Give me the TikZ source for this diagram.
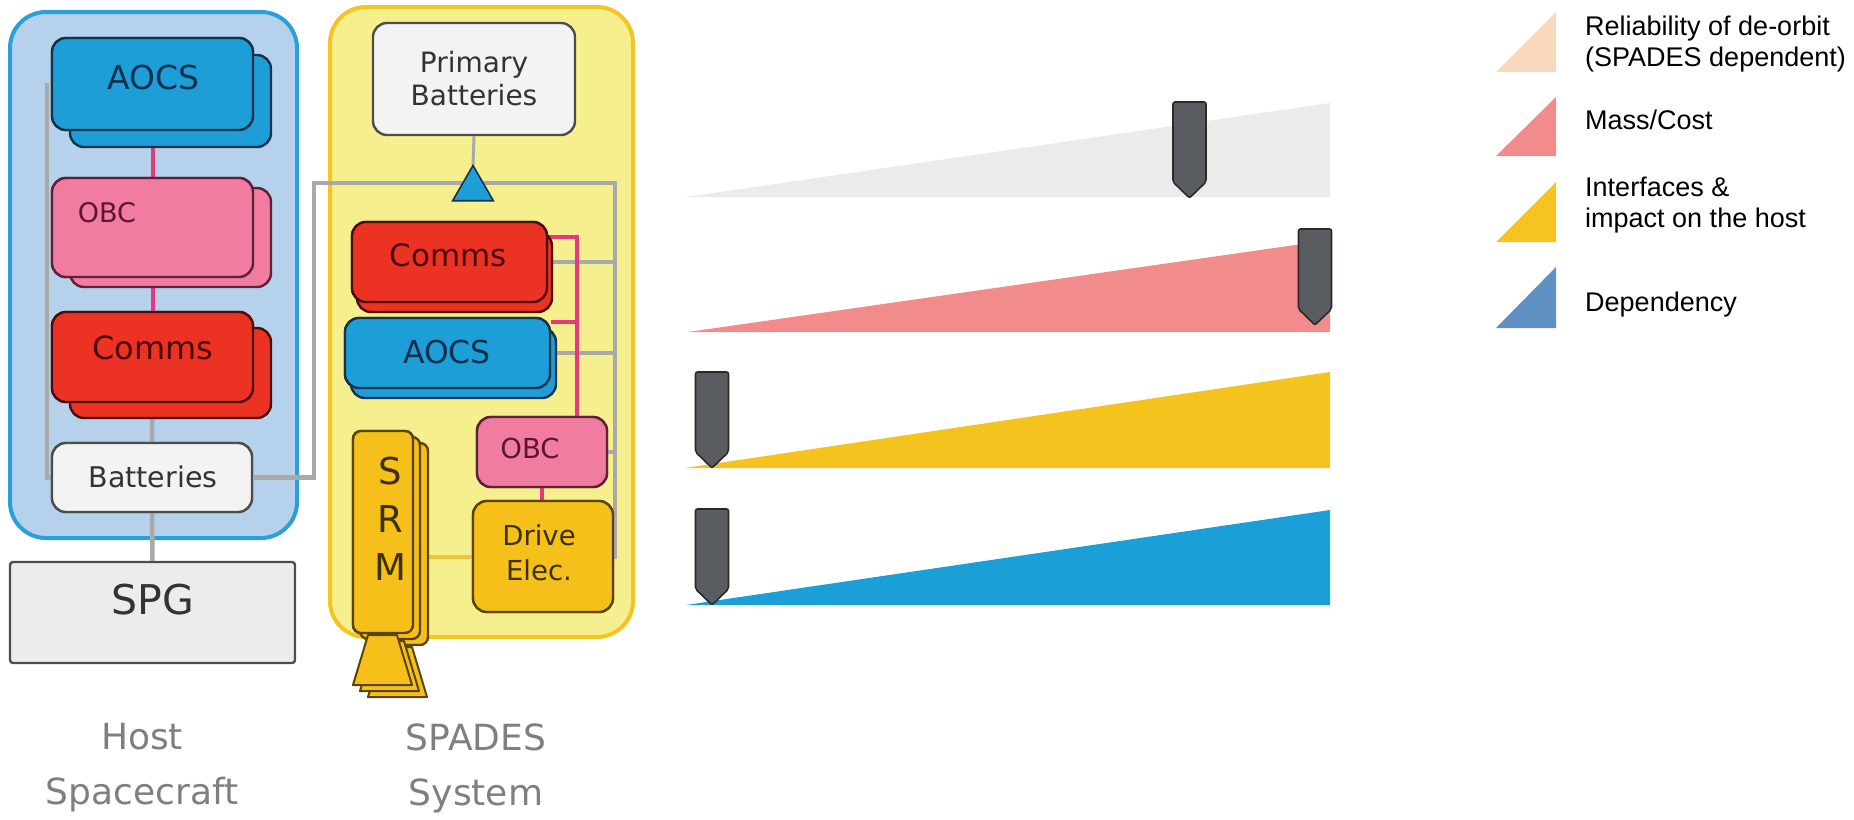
\documentclass[tikz,border=0pt]{standalone}
\usepackage{fontspec}
\setmainfont{DejaVu Sans}
\newfontfamily\legendfont{Liberation Sans}
\usetikzlibrary{shapes.geometric,calc}

% fills, borders and text colours
\definecolor{hostFill}{HTML}{B5D1EC}
\definecolor{hostEdge}{HTML}{2AA0DB}
\definecolor{spadesFill}{HTML}{F6EF8E}
\definecolor{spadesEdge}{HTML}{F2C521}
\definecolor{aocsFill}{HTML}{1E9ED6}
\definecolor{aocsEdge}{HTML}{16324A}
\definecolor{aocsText}{HTML}{12304E}
\definecolor{obcFill}{HTML}{F07CA0}
\definecolor{obcEdge}{HTML}{5E1F38}
\definecolor{obcText}{HTML}{5E1434}
\definecolor{commsFill}{HTML}{EC3323}
\definecolor{commsEdge}{HTML}{4A0D0D}
\definecolor{commsText}{HTML}{4A0808}
\definecolor{batFill}{HTML}{F3F3F3}
\definecolor{batEdge}{HTML}{4D4D4D}
\definecolor{batText}{HTML}{333333}
\definecolor{spgFill}{HTML}{ECECEC}
\definecolor{driveFill}{HTML}{F6C01A}
\definecolor{driveEdge}{HTML}{5B4300}
\definecolor{driveText}{HTML}{3D3000}
\definecolor{wireGray}{HTML}{A9A9A9}
\definecolor{wirePink}{HTML}{E6387C}
\definecolor{wireYellow}{HTML}{EEC23B}
\definecolor{captionGray}{HTML}{7F7F7F}
\definecolor{rampGray}{HTML}{EBEBEB}
\definecolor{rampPink}{HTML}{F28B8B}
\definecolor{rampYellow}{HTML}{F4C31D}
\definecolor{rampBlue}{HTML}{1A9FD7}
\definecolor{keyPeach}{HTML}{F9D9BD}
\definecolor{keyPink}{HTML}{F28C8C}
\definecolor{keyYellow}{HTML}{F5C41F}
\definecolor{keyBlue}{HTML}{5E90C3}
\definecolor{gaugeFill}{HTML}{595C60}
\definecolor{gaugeEdge}{HTML}{2A2A2A}

\newcommand{\fsz}[1]{\fontsize{#1pt}{#1pt}\selectfont}

\tikzset{
  unitframe/.style={line width=4pt, inner sep=0pt, rounded corners=36pt},
  unitbox/.style={line width=2.4pt, inner sep=0pt, rounded corners=14pt},
  aocsbox/.style={unitbox, fill=aocsFill, draw=aocsEdge},
  obcbox/.style={unitbox, fill=obcFill, draw=obcEdge},
  commsbox/.style={unitbox, fill=commsFill, draw=commsEdge},
  batbox/.style={unitbox, fill=batFill, draw=batEdge},
  drivebox/.style={unitbox, fill=driveFill, draw=driveEdge},
  srmbox/.style={drivebox, rounded corners=8pt},
  nozzle/.style={fill=driveFill, draw=driveEdge, line width=2pt, line join=round},
  txt/.style={inner sep=0pt, align=center},
  gline/.style={draw=wireGray, line width=4.5pt},
  pline/.style={draw=wirePink, line width=4pt},
  yline/.style={draw=wireYellow, line width=4pt},
  gauge/.pic={
    \draw[fill=gaugeFill, draw=gaugeEdge, line width=1.6pt, rounded corners=2pt]
      (0,0) -- (-16.5,-16) -- (-16.5,-96) -- (16.5,-96) -- (16.5,-16) -- cycle;
  },
}

\begin{document}
\begin{tikzpicture}[x=1pt, y=-1pt]
\useasboundingbox (0,0) rectangle (1854,819);

% ---------------- containers ----------------
\node[unitframe, fill=hostFill, draw=hostEdge, minimum width=287, minimum height=526]
  (host) at (153.5,275) {};
\node[unitframe, fill=spadesFill, draw=spadesEdge, minimum width=303, minimum height=630]
  (spades) at (481.5,322) {};

% ---------------- host spacecraft units ----------------
\node[aocsbox, minimum width=201, minimum height=92] (hAOCS) at (152.5,84) {};
\node[obcbox, minimum width=201, minimum height=99] (hOBC) at (152.5,227.5) {};
\node[commsbox, minimum width=201, minimum height=90] (hComms) at (152.5,357) {};
\node[batbox, minimum width=200, minimum height=69] (hBat) at (152,477.5) {};
\node[fill=spgFill, draw=batEdge, line width=2.4pt, rounded corners=3pt, inner sep=0pt,
      minimum width=285, minimum height=101] (spg) at (152.5,612.5) {};

% host wiring
\draw[gline] ($(hAOCS.west)+(-4,-1)$) |- (hBat.west);
\draw[pline] (hAOCS.south) -- (hOBC.north);
\draw[pline] (hOBC.south) -- (hComms.north);
\draw[gline] (hComms.south) -- (hBat.north);
\draw[gline] (hBat.south) -- (spg.north);

% redundant copies behind, then the front units on top
\node[aocsbox, minimum width=201, minimum height=92] (hAOCSb) at (170.5,101) {};
\node[aocsbox, minimum width=201, minimum height=92] (hAOCSf) at (152.5,84) {};
\node[obcbox, minimum width=201, minimum height=99] (hOBCb) at (170.5,237.5) {};
\node[obcbox, minimum width=201, minimum height=99] (hOBCf) at (152.5,227.5) {};
\node[commsbox, minimum width=201, minimum height=90] (hCommsb) at (170.5,373) {};
\node[commsbox, minimum width=201, minimum height=90] (hCommsf) at (152.5,357) {};
\node[batbox, minimum width=200, minimum height=69] (hBatf) at (152,477.5) {};

\node[txt, font=\fsz{33}, text=aocsText] (hAOCSt) at (153,77) {AOCS};
\node[txt, font=\fsz{27}, text=obcText] (hOBCt) at (107,213) {OBC};
\node[txt, font=\fsz{32}, text=commsText] (hCommst) at (153,348) {Comms};
\node[txt, font=\fsz{28.5}, text=batText] (hBatt) at (153,477) {Batteries};
\node[txt, font=\fsz{41}, text=batText] (spgt) at (153,600) {SPG};

% ---------------- SPADES units ----------------
\node[batbox, minimum width=202, minimum height=112, font=\fsz{28},
      text=batText, align=center, execute at begin node=\setlength{\baselineskip}{33pt}]
  (sPB) at (474,79) {Primary\\Batteries};
\node[commsbox, minimum width=195, minimum height=80] (sComms) at (449.5,262) {};
\node[aocsbox, minimum width=205, minimum height=70] (sAOCS) at (447.5,353) {};
\node[obcbox, minimum width=130, minimum height=70] (sOBC) at (542,452) {};
\node[drivebox, minimum width=140, minimum height=111] (sDrive) at (543,556.5) {};
\node[srmbox, minimum width=60, minimum height=202] (sSRM) at (383,532) {};

\coordinate (busTop) at (615,183);
\coordinate (pinkBus) at (577,238);
\coordinate (aocsPink) at ($(sAOCS.north east)+(0,5)$);

% power bus from the host batteries through the SPADES system
\draw[gline] (hBat.east) -- ++(61,0) |- (busTop) |- (sDrive.east);
\draw[gline] (sComms.east) -- (sComms.east -| busTop);
\draw[gline] (sAOCS.east) -- (sAOCS.east -| busTop);
\draw[gline] (sOBC.east) -- (sOBC.east -| busTop);
\draw[gline, line width=3pt] (sPB.south) -- (473,165);

% data links to the OBC
\draw[pline] ($(sComms.north east)+(0,16)$) -| ($(sOBC.north)+(35,0)$);
\draw[pline] (aocsPink) -- (aocsPink -| pinkBus);
\draw[pline] (sOBC.south) -- (sOBC.south |- sDrive.north);
\draw[yline] (sSRM.east |- sDrive.west) -- (sDrive.west);

% diode symbol on the bus
\node[regular polygon, regular polygon sides=3, minimum size=47, inner sep=0pt,
      fill=aocsFill, draw=aocsEdge, line width=1.6pt] (tri) at (473,189) {};

% stacked copies of the SPADES units
\node[commsbox, minimum width=195, minimum height=80] (sCommsb) at (454.5,272) {};
\node[commsbox, minimum width=195, minimum height=80] (sCommsf) at (449.5,262) {};
\node[aocsbox, minimum width=205, minimum height=70] (sAOCSb) at (453.5,363) {};
\node[aocsbox, minimum width=205, minimum height=70] (sAOCSf) at (447.5,353) {};
\node[obcbox, minimum width=130, minimum height=70] (sOBCf) at (542,452) {};
\node[drivebox, minimum width=140, minimum height=111] (sDrivef) at (543,556.5) {};

% solid rocket motor: three stacked motors with nozzles
\node[srmbox, minimum width=60, minimum height=202] (sSRMc) at (398,544) {};
\draw[nozzle] (383,647) -- (412,647) -- (427,697) -- (368,697) -- cycle;
\node[srmbox, minimum width=60, minimum height=202] (sSRMb) at (390,538) {};
\draw[nozzle] (375,641) -- (404,641) -- (419,691) -- (360,691) -- cycle;
\node[srmbox, minimum width=60, minimum height=202] (sSRMf) at (383,532) {};
\draw[nozzle] (368,635) -- (397,635) -- (412,685) -- (353,685) -- cycle;

\node[txt, font=\fsz{31}, text=commsText] (sCommst) at (448,255) {Comms};
\node[txt, font=\fsz{31.5}, text=aocsText] (sAOCSt) at (447,352) {AOCS};
\node[txt, font=\fsz{27.5}, text=obcText] (sOBCt) at (530,448) {OBC};
\node[txt, font=\fsz{27.5}, text=driveText,
      execute at begin node=\setlength{\baselineskip}{35pt}] (sDrivet) at (539,553) {Drive\\Elec.};
\node[txt, font=\fsz{37}, text=driveText,
      execute at begin node=\setlength{\baselineskip}{48pt}] (sSRMt) at (390,519) {S\\R\\M};

% captions
\node[txt, font=\fsz{36}, text=captionGray,
      execute at begin node=\setlength{\baselineskip}{55pt}] (capHost) at (142,768) {Host\\Spacecraft};
\node[txt, font=\fsz{36}, text=captionGray,
      execute at begin node=\setlength{\baselineskip}{55pt}] (capSpades) at (476,768) {SPADES\\System};

% ---------------- trade-off ramps ----------------
\fill[rampGray]   (686,197) -- (1330,103) -- (1330,197) -- cycle;
\fill[rampPink]   (688,332) -- (1330,240) -- (1330,332) -- cycle;
\fill[rampYellow] (685,468) -- (1330,372) -- (1330,468) -- cycle;
\fill[rampBlue]   (686,605) -- (1330,510) -- (1330,605) -- cycle;

\pic at (1189.5,198) {gauge};
\pic at (1315,325) {gauge};
\pic at (712,468) {gauge};
\pic at (712,605) {gauge};

% ---------------- key ----------------
\fill[keyPeach]  (1496,72)  -- (1556,12)  -- (1556,72)  -- cycle;
\fill[keyPink]   (1496,156) -- (1556,97)  -- (1556,156) -- cycle;
\fill[keyYellow] (1496,242) -- (1556,182) -- (1556,242) -- cycle;
\fill[keyBlue]   (1496,328) -- (1556,267) -- (1556,328) -- cycle;

\begin{scope}[every node/.style={inner sep=0pt, align=left, text=black,
    font=\legendfont\fsz{27},
    execute at begin node=\setlength{\baselineskip}{31pt}}]
  \node[anchor=west] (keyA) at (1585,44.5) {Reliability of de-orbit\\(SPADES dependent)};
  \node[anchor=base west] (keyB) at (1585,129) {Mass/Cost};
  \node[anchor=west] (keyC) at (1585,205.5) {Interfaces \&\\impact on the host};
  \node[anchor=base west] (keyD) at (1585,311) {Dependency};
\end{scope}
\end{tikzpicture}
\end{document}
